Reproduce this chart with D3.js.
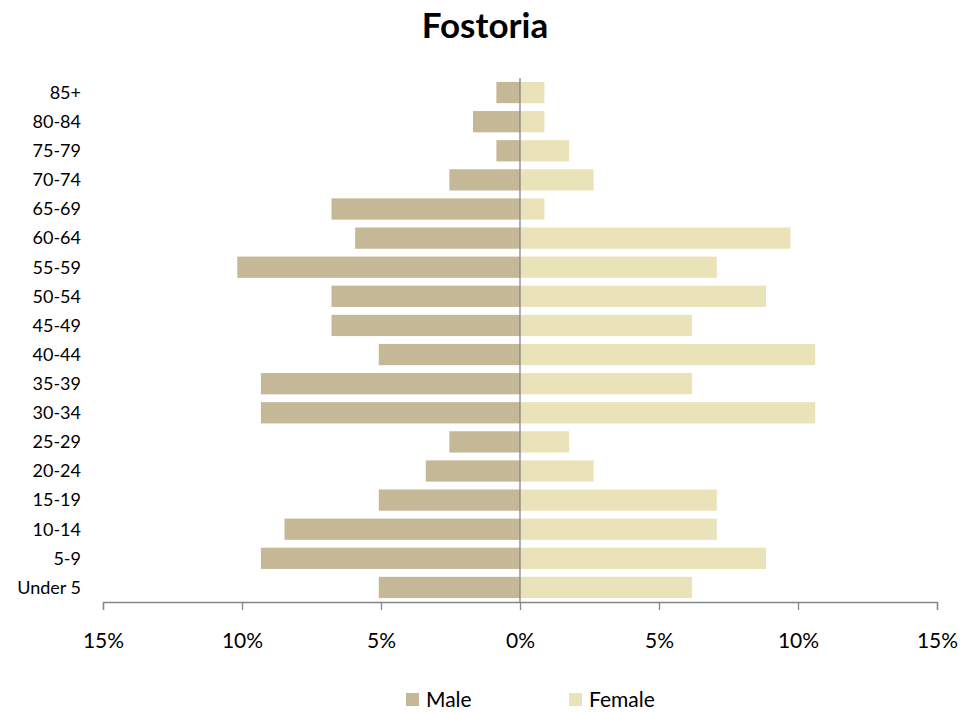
<!DOCTYPE html>
<html>
<head>
<meta charset="utf-8">
<script src="https://cdn.jsdelivr.net/npm/d3@7"></script>
<style>
  html, body { margin: 0; padding: 0; background: #fff; }
  svg text { font-family: Lato, "Open Sans", sans-serif; fill: #000; }
</style>
</head>
<body>
<svg id="chart" width="979" height="713"></svg>
<script>
const title = "Fostoria";
const categories = ["85+","80-84","75-79","70-74","65-69","60-64","55-59","50-54","45-49","40-44","35-39","30-34","25-29","20-24","15-19","10-14","5-9","Under 5"];
const maleValues   = [0.85, 1.69, 0.85, 2.54, 6.78, 5.93, 10.17, 6.78, 6.78, 5.08, 9.32, 9.32, 2.54, 3.39, 5.08, 8.47, 9.32, 5.08];
const femaleValues = [0.88, 0.88, 1.77, 2.65, 0.88, 9.73, 7.08, 8.85, 6.19, 10.62, 6.19, 10.62, 1.77, 2.65, 7.08, 7.08, 8.85, 6.19];
const tickValues = [-15, -10, -5, 0, 5, 10, 15];
const seriesNames = ["Male", "Female"];
const colors = { Male: "#C4B896", Female: "#EAE3B9" };

const svg = d3.select("#chart");
const x = d3.scaleLinear().domain([-15, 15]).range([103, 937]);
const y = d3.scaleBand().domain(categories).range([78, 602]).paddingInner(0.27).paddingOuter(0.135);

svg.append("text").attr("x", 485).attr("y", 38).attr("text-anchor", "middle")
  .style("font-size", "35px").style("font-weight", "bold").text(title);

// bars
svg.append("g").selectAll("rect").data(categories).join("rect")
  .attr("x", (d, i) => x(-maleValues[i])).attr("y", d => y(d))
  .attr("width", (d, i) => x(0) - x(-maleValues[i])).attr("height", y.bandwidth())
  .attr("fill", colors.Male);
svg.append("g").selectAll("rect").data(categories).join("rect")
  .attr("x", x(0)).attr("y", d => y(d))
  .attr("width", (d, i) => x(femaleValues[i]) - x(0)).attr("height", y.bandwidth())
  .attr("fill", colors.Female);

// x axis
const xAxis = d3.axisBottom(x).tickValues(tickValues).tickSize(8).tickPadding(23)
  .tickFormat(d => Math.abs(d) + "%");
const gx = svg.append("g").attr("transform", "translate(0,602)").call(xAxis);
gx.select(".domain").attr("stroke", "#868686").attr("stroke-width", 1.3);
gx.selectAll(".tick line").attr("stroke", "#868686").attr("stroke-width", 1.3);
gx.selectAll(".tick text").style("font-size", "21px").attr("fill", "#000");

// center vertical line
svg.append("line").attr("x1", x(0)).attr("x2", x(0)).attr("y1", 78).attr("y2", 602)
  .attr("stroke", "#868686").attr("stroke-width", 1.3);

// category labels
svg.append("g").selectAll("text").data(categories).join("text")
  .attr("x", 81).attr("y", d => y(d) + y.bandwidth() / 2)
  .attr("dy", "0.35em").attr("text-anchor", "end")
  .style("font-size", "18px").text(d => d);

// legend
const legendX = [406, 569];
const lg = svg.append("g").selectAll("g").data(seriesNames).join("g")
  .attr("transform", (d, i) => `translate(${legendX[i]},693)`);
lg.append("rect").attr("width", 13).attr("height", 13).attr("fill", d => colors[d]);
lg.append("text").attr("x", 20).attr("y", 7).attr("dy", "0.35em")
  .style("font-size", "21px").text(d => d);
</script>
</body>
</html>
